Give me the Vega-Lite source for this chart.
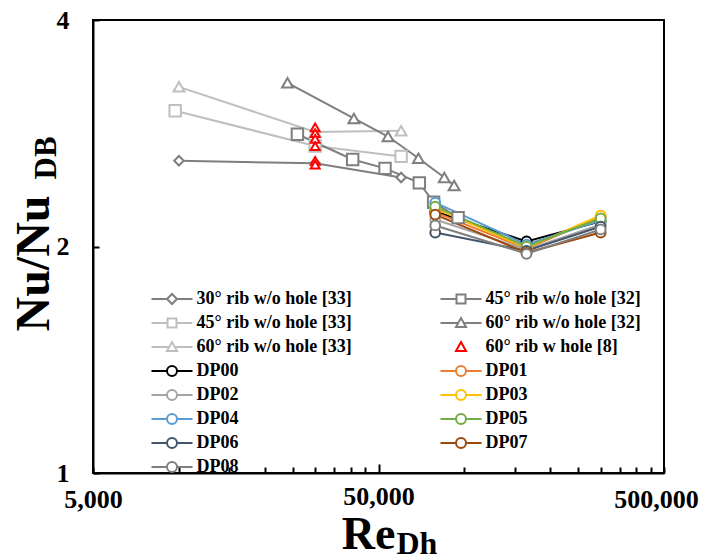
{
  "$schema": "https://vega.github.io/schema/vega-lite/v6.json",
  "width": 571,
  "height": 453,
  "autosize": "none",
  "padding": {"left": 93, "top": 20, "right": 41, "bottom": 87},
  "background": "white",
  "config": {
    "view": {"stroke": "black", "strokeWidth": 2},
    "axis": {
      "grid": false,
      "labelFont": "Liberation Serif",
      "labelFontWeight": "bold",
      "labelFontSize": 26,
      "labelColor": "black",
      "titleFont": "Liberation Serif",
      "titleFontWeight": "bold",
      "titleColor": "black",
      "domainColor": "black",
      "domainWidth": 2,
      "tickColor": "black",
      "tickWidth": 2
    }
  },
  "data": {
    "values": [
      {"s": "30° rib w/o hole [33]", "Re": 10000, "Nu": 2.6},
      {"s": "30° rib w/o hole [33]", "Re": 30000, "Nu": 2.58},
      {"s": "30° rib w/o hole [33]", "Re": 60000, "Nu": 2.47},
      {"s": "45° rib w/o hole [33]", "Re": 9700, "Nu": 3.03},
      {"s": "45° rib w/o hole [33]", "Re": 30000, "Nu": 2.72},
      {"s": "45° rib w/o hole [33]", "Re": 60000, "Nu": 2.635},
      {"s": "60° rib w/o hole [33]", "Re": 10000, "Nu": 3.26},
      {"s": "60° rib w/o hole [33]", "Re": 30000, "Nu": 2.84},
      {"s": "60° rib w/o hole [33]", "Re": 60000, "Nu": 2.85},
      {"s": "60° rib w/o hole [32]", "Re": 24000, "Nu": 3.3},
      {"s": "60° rib w/o hole [32]", "Re": 41000, "Nu": 2.96},
      {"s": "60° rib w/o hole [32]", "Re": 54000, "Nu": 2.8},
      {"s": "60° rib w/o hole [32]", "Re": 69000, "Nu": 2.62},
      {"s": "60° rib w/o hole [32]", "Re": 85000, "Nu": 2.47},
      {"s": "60° rib w/o hole [32]", "Re": 92000, "Nu": 2.41},
      {"s": "45° rib w/o hole [32]", "Re": 26000, "Nu": 2.82},
      {"s": "45° rib w/o hole [32]", "Re": 40600, "Nu": 2.61},
      {"s": "45° rib w/o hole [32]", "Re": 52700, "Nu": 2.54},
      {"s": "45° rib w/o hole [32]", "Re": 69500, "Nu": 2.43},
      {"s": "45° rib w/o hole [32]", "Re": 78000, "Nu": 2.29},
      {"s": "45° rib w/o hole [32]", "Re": 95000, "Nu": 2.185},
      {"s": "60° rib w hole [8]", "Re": 30000, "Nu": 2.88},
      {"s": "60° rib w hole [8]", "Re": 30000, "Nu": 2.83},
      {"s": "60° rib w hole [8]", "Re": 30000, "Nu": 2.78},
      {"s": "60° rib w hole [8]", "Re": 30000, "Nu": 2.72},
      {"s": "60° rib w hole [8]", "Re": 30000, "Nu": 2.6},
      {"s": "60° rib w hole [8]", "Re": 30000, "Nu": 2.57},
      {"s": "DP00", "Re": 79000, "Nu": 2.226},
      {"s": "DP00", "Re": 165000, "Nu": 2.031},
      {"s": "DP00", "Re": 300000, "Nu": 2.16},
      {"s": "DP01", "Re": 79000, "Nu": 2.22},
      {"s": "DP01", "Re": 165000, "Nu": 1.987},
      {"s": "DP01", "Re": 300000, "Nu": 2.19},
      {"s": "DP02", "Re": 79000, "Nu": 2.172},
      {"s": "DP02", "Re": 165000, "Nu": 1.98},
      {"s": "DP02", "Re": 300000, "Nu": 2.139},
      {"s": "DP03", "Re": 79000, "Nu": 2.247},
      {"s": "DP03", "Re": 165000, "Nu": 1.993},
      {"s": "DP03", "Re": 300000, "Nu": 2.199},
      {"s": "DP04", "Re": 79000, "Nu": 2.287},
      {"s": "DP04", "Re": 165000, "Nu": 2.012},
      {"s": "DP04", "Re": 300000, "Nu": 2.166},
      {"s": "DP05", "Re": 79000, "Nu": 2.26},
      {"s": "DP05", "Re": 165000, "Nu": 2.0},
      {"s": "DP05", "Re": 300000, "Nu": 2.179},
      {"s": "DP06", "Re": 79000, "Nu": 2.087},
      {"s": "DP06", "Re": 165000, "Nu": 1.974},
      {"s": "DP06", "Re": 300000, "Nu": 2.126},
      {"s": "DP07", "Re": 79000, "Nu": 2.205},
      {"s": "DP07", "Re": 165000, "Nu": 1.962},
      {"s": "DP07", "Re": 300000, "Nu": 2.087},
      {"s": "DP08", "Re": 79000, "Nu": 2.133},
      {"s": "DP08", "Re": 165000, "Nu": 1.956},
      {"s": "DP08", "Re": 300000, "Nu": 2.107}
    ]
  },
  "layer": [
    {
      "encoding": {
        "x": {
          "field": "Re", "type": "quantitative",
          "scale": {"type": "log", "domain": [5000, 500000], "nice": false},
          "axis": {
            "values": [5000, 10000, 15000, 20000, 25000, 30000, 35000, 40000, 45000, 50000, 100000, 150000, 200000, 250000, 300000, 350000, 400000, 450000, 500000],
            "labelExpr": "datum.value == 5000 || datum.value == 50000 || datum.value == 500000 ? format(datum.value, ',') : ''",
            "labelOverlap": false,
            "labelFlush": false,
            "labelOffset": {"condition": {"test": "datum.value == 500000", "value": -8}, "value": 0},
            "tickSize": {"condition": {"test": "datum.value == 50000", "value": -9}, "value": -6},
            "labelPadding": 19,
            "title": "Re",
            "titleFontSize": 46,
            "titleAlign": "right",
            "titleBaseline": "alphabetic",
            "titleX": 302,
            "titleY": 75
          }
        },
        "y": {
          "field": "Nu", "type": "quantitative",
          "scale": {"type": "log", "domain": [1, 4], "nice": false},
          "axis": {
            "values": [1, 2, 4],
            "format": "d",
            "tickSize": -6,
            "labelPadding": 30,
            "title": "Nu/Nu",
            "titleFontSize": 48,
            "titleAlign": "left",
            "titleBaseline": "alphabetic",
            "titleAngle": 270,
            "titleX": -45,
            "titleY": 311
          }
        }
      },
      "layer": [
        {
          "transform": [{"filter": "datum.s != '60° rib w hole [8]'"}],
          "mark": {"type": "line", "strokeWidth": 2},
          "encoding": {
            "color": {
              "field": "s", "type": "nominal", "legend": null,
              "scale": {
                "domain": ["DP08", "DP07", "DP06", "DP05", "DP04", "DP03", "DP02", "DP01", "DP00", "60° rib w hole [8]", "60° rib w/o hole [33]", "60° rib w/o hole [32]", "45° rib w/o hole [33]", "45° rib w/o hole [32]", "30° rib w/o hole [33]"],
                "range": ["#7f7f7f", "#9e480e", "#44546a", "#70ad47", "#5b9bd5", "#ffc000", "#a5a5a5", "#ed7d31", "#000000", "#ff0000", "#bfbfbf", "#7f7f7f", "#bfbfbf", "#7f7f7f", "#7f7f7f"]
              }
            }
          }
        },
        {
          "transform": [{"filter": {"field": "s", "equal": "30° rib w/o hole [33]"}}],
          "mark": {"type": "point", "shape": "diamond", "filled": false, "fill": "white", "size": 90, "strokeWidth": 2, "opacity": 1},
          "encoding": {"color": {"field": "s", "type": "nominal", "legend": null}}
        },
        {
          "transform": [{"filter": {"field": "s", "oneOf": ["45° rib w/o hole [32]", "45° rib w/o hole [33]"]}}],
          "mark": {"type": "point", "shape": "square", "filled": false, "fill": "white", "size": 130, "strokeWidth": 2, "opacity": 1},
          "encoding": {"color": {"field": "s", "type": "nominal", "legend": null}}
        },
        {
          "transform": [{"filter": {"field": "s", "oneOf": ["60° rib w/o hole [32]", "60° rib w/o hole [33]"]}}],
          "mark": {"type": "point", "shape": "triangle-up", "filled": false, "fill": "white", "size": 120, "strokeWidth": 2, "opacity": 1},
          "encoding": {"color": {"field": "s", "type": "nominal", "legend": null}}
        },
        {
          "transform": [{"filter": {"field": "s", "oneOf": ["DP00", "DP01", "DP02", "DP03", "DP04", "DP05", "DP06", "DP07", "DP08"]}}],
          "mark": {"type": "point", "shape": "circle", "filled": false, "fill": "white", "size": 95, "strokeWidth": 2, "opacity": 1},
          "encoding": {"color": {"field": "s", "type": "nominal", "legend": null}}
        },
        {
          "transform": [{"filter": {"field": "s", "equal": "60° rib w hole [8]"}}],
          "mark": {"type": "point", "shape": "triangle-up", "filled": false, "fill": "white", "size": 80, "strokeWidth": 2, "opacity": 1},
          "encoding": {"color": {"field": "s", "type": "nominal", "legend": null}}
        }
      ]
    },
    {
      "mark": {"type": "point", "opacity": 0},
      "encoding": {
        "x": {
          "field": "Re", "type": "quantitative",
          "scale": {"type": "log", "domain": [5000, 500000], "nice": false},
          "axis": {
            "orient": "bottom", "labels": false, "ticks": false, "domain": false,
            "title": "Dh", "titleFontSize": 32, "titleAlign": "left", "titleBaseline": "alphabetic",
            "titleX": 303, "titleY": 80
          }
        },
        "y": {
          "field": "Nu", "type": "quantitative",
          "scale": {"type": "log", "domain": [1, 4], "nice": false},
          "axis": {
            "orient": "left", "labels": false, "ticks": false, "domain": false,
            "title": "DB", "titleFontSize": 31, "titleAlign": "left", "titleBaseline": "alphabetic", "titleAngle": 270,
            "titleX": -38, "titleY": 159
          }
        }
      }
    },
    {
      "transform": [{"filter": "datum.Re < 0"}],
      "mark": {"type": "point", "filled": false},
      "encoding": {
        "stroke": {
          "field": "s", "type": "nominal",
          "scale": {
            "domain": ["30° rib w/o hole [33]", "45° rib w/o hole [32]", "45° rib w/o hole [33]", "60° rib w/o hole [32]", "60° rib w/o hole [33]", "60° rib w hole [8]", "DP00", "DP01", "DP02", "DP03", "DP04", "DP05", "DP06", "DP07", "DP08"],
            "range": ["#7f7f7f", "#7f7f7f", "#bfbfbf", "#7f7f7f", "#bfbfbf", "#ff0000", "#000000", "#ed7d31", "#a5a5a5", "#ffc000", "#5b9bd5", "#70ad47", "#44546a", "#9e480e", "#7f7f7f"]
          },
          "legend": {
            "title": null, "orient": "none", "legendX": 68, "legendY": 268, "direction": "horizontal", "columns": 2, "columnPadding": 84, "rowPadding": 4,
            "symbolSize": 400, "symbolStrokeWidth": 2, "symbolFillColor": "white", "symbolOpacity": 1,
            "labelFont": "Liberation Serif", "labelFontSize": 18, "labelFontWeight": "bold", "labelColor": "black", "labelOffset": 13.5, "labelLimit": 0
          }
        },
        "shape": {
          "field": "s", "type": "nominal",
          "scale": {
            "domain": ["30° rib w/o hole [33]", "45° rib w/o hole [32]", "45° rib w/o hole [33]", "60° rib w/o hole [32]", "60° rib w/o hole [33]", "60° rib w hole [8]", "DP00", "DP01", "DP02", "DP03", "DP04", "DP05", "DP06", "DP07", "DP08"],
            "range": [
              "M-2.05,0H-0.5M0.5,0H2.05M-0.5,0L0,-0.5L0.5,0L0,0.5Z",
              "M-2.05,0H-0.45M0.45,0H2.05M-0.45,-0.45H0.45V0.45H-0.45Z",
              "M-2.05,0H-0.45M0.45,0H2.05M-0.45,-0.45H0.45V0.45H-0.45Z",
              "M-2.05,0H-0.28M0.28,0H2.05M0,-0.5L0.5,0.4L-0.5,0.4Z",
              "M-2.05,0H-0.28M0.28,0H2.05M0,-0.5L0.5,0.4L-0.5,0.4Z",
              "M0,-0.5L0.5,0.4L-0.5,0.4Z",
              "M-2.05,0H-0.5M0.5,0H2.05M-0.5,0A0.5,0.5,0,1,1,0.5,0A0.5,0.5,0,1,1,-0.5,0Z",
              "M-2.05,0H-0.5M0.5,0H2.05M-0.5,0A0.5,0.5,0,1,1,0.5,0A0.5,0.5,0,1,1,-0.5,0Z",
              "M-2.05,0H-0.5M0.5,0H2.05M-0.5,0A0.5,0.5,0,1,1,0.5,0A0.5,0.5,0,1,1,-0.5,0Z",
              "M-2.05,0H-0.5M0.5,0H2.05M-0.5,0A0.5,0.5,0,1,1,0.5,0A0.5,0.5,0,1,1,-0.5,0Z",
              "M-2.05,0H-0.5M0.5,0H2.05M-0.5,0A0.5,0.5,0,1,1,0.5,0A0.5,0.5,0,1,1,-0.5,0Z",
              "M-2.05,0H-0.5M0.5,0H2.05M-0.5,0A0.5,0.5,0,1,1,0.5,0A0.5,0.5,0,1,1,-0.5,0Z",
              "M-2.05,0H-0.5M0.5,0H2.05M-0.5,0A0.5,0.5,0,1,1,0.5,0A0.5,0.5,0,1,1,-0.5,0Z",
              "M-2.05,0H-0.5M0.5,0H2.05M-0.5,0A0.5,0.5,0,1,1,0.5,0A0.5,0.5,0,1,1,-0.5,0Z",
              "M-2.05,0H-0.5M0.5,0H2.05M-0.5,0A0.5,0.5,0,1,1,0.5,0A0.5,0.5,0,1,1,-0.5,0Z"
            ]
          },
          "legend": {
            "title": null, "orient": "none", "legendX": 68, "legendY": 268, "direction": "horizontal", "columns": 2, "columnPadding": 84, "rowPadding": 4,
            "symbolSize": 400, "symbolStrokeWidth": 2, "symbolFillColor": "white", "symbolOpacity": 1,
            "labelFont": "Liberation Serif", "labelFontSize": 18, "labelFontWeight": "bold", "labelColor": "black", "labelOffset": 13.5, "labelLimit": 0
          }
        }
      }
    }
  ],
  "resolve": {"scale": {"x": "independent", "y": "independent"}}
}
